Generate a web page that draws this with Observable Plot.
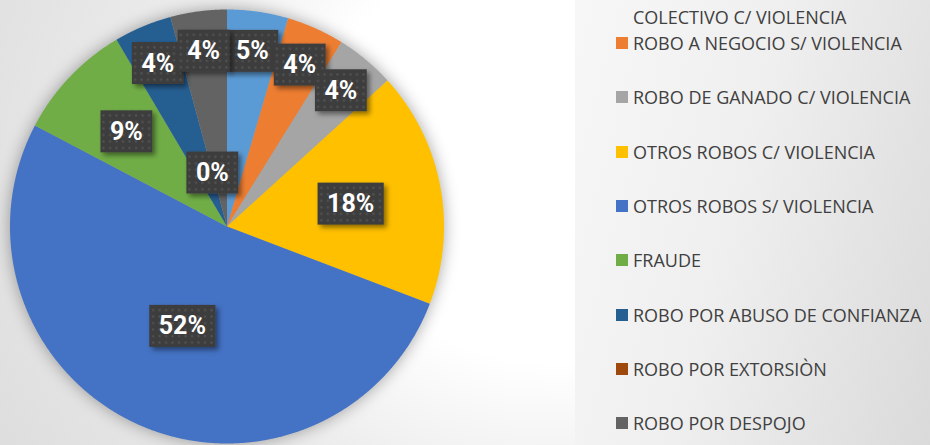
<!DOCTYPE html>
<html><head><meta charset="utf-8">
<script src="https://cdn.jsdelivr.net/npm/d3@7"></script>
<script src="https://cdn.jsdelivr.net/npm/@observablehq/plot@0.6"></script>
<style>
html,body{margin:0;padding:0;background:#fff;}
#wrap{position:relative;width:930px;height:445px;overflow:hidden;
  background:radial-gradient(ellipse 640px 560px at 560px 150px,#ffffff 0%,#ffffff 38%,#ebebeb 66%,#dedede 100%);
  font-family:"Open Sans",sans-serif;}
#chart{position:absolute;left:0;top:0;}
#legend{position:absolute;left:575px;top:0;width:355px;height:445px;overflow:hidden;
  background:linear-gradient(105deg,#f7f7f7 0%,#efefef 45%,#dadada 100%);}
.item{position:absolute;left:58px;width:297px;font-size:18px;line-height:28px;color:#404040;white-space:nowrap;}
.sw{position:absolute;left:-17px;top:8px;width:12px;height:12px;}
</style></head><body>
<div id="wrap"><div id="chart"></div><div id="legend"></div></div>
<script>
const categories = [
  "ROBO A TRANSPORTE PÚBLICO COLECTIVO C/ VIOLENCIA",
  "ROBO A NEGOCIO S/ VIOLENCIA",
  "ROBO DE GANADO C/ VIOLENCIA",
  "OTROS ROBOS C/ VIOLENCIA",
  "OTROS ROBOS S/ VIOLENCIA",
  "FRAUDE",
  "ROBO POR ABUSO DE CONFIANZA",
  "ROBO POR EXTORSIÒN",
  "ROBO POR DESPOJO"
];
const values = [4.55, 4.3, 4.4, 17.55, 51.9, 8.8, 4.3, 0, 4.2];
const colors = ["#5B9BD5", "#ED7D31", "#A5A5A5", "#FFC000", "#4472C4", "#70AD47", "#255E91", "#9E480E", "#636363"];

const data = categories.map((name, i) => ({name, value: values[i], color: colors[i]}));
const total = d3.sum(values);
const arcs = d3.pie().value(d => d.value).sort(null).startAngle(0).endAngle(2 * Math.PI)(data);

// slice outlines (center -> arc -> center), computed from the values
const pts = [];
for (const a of arcs) {
  if (a.endAngle - a.startAngle <= 0) continue;
  const n = Math.max(2, Math.ceil((a.endAngle - a.startAngle) / 0.004));
  pts.push({name: a.data.name, color: a.data.color, x: 0, y: 0});
  for (let k = 0; k <= n; k++) {
    const t = a.startAngle + (a.endAngle - a.startAngle) * k / n;
    pts.push({name: a.data.name, color: a.data.color, x: Math.sin(t), y: Math.cos(t)});
  }
  pts.push({name: a.data.name, color: a.data.color, x: 0, y: 0});
}

// data labels at the slice mid-angle ("best fit"-like radius by slice size)
const labels = arcs.map(a => {
  const mid = (a.startAngle + a.endAngle) / 2;
  const f = a.data.value / total;
  const rf = f === 0 ? 0.26 : f < 0.06 ? 0.82 : f < 0.12 ? 0.64 : f < 0.3 ? 0.58 : 0.5;
  return {x: rf * Math.sin(mid), y: rf * Math.cos(mid), text: Math.round(a.data.value * 100 / total) + "%"};
});

const svg = Plot.plot({
  width: 575, height: 445,
  marginLeft: 9.5, marginRight: 131.5, marginTop: 9, marginBottom: 2,
  style: {background: "transparent", overflow: "visible"},
  x: {domain: [-1, 1], axis: null},
  y: {domain: [-1, 1], axis: null},
  marks: [
    Plot.line(pts, {x: "x", y: "y", z: "name", fill: "color", stroke: "none", curve: "linear"}),
    Plot.text(labels, {x: "x", y: "y", text: "text", fill: "white", fontSize: 25, fontWeight: "bold",
      fontFamily: "Roboto, 'Open Sans', sans-serif", dy: 1})
  ]
});
document.getElementById("chart").appendChild(svg);

// defs: dotted label background + shadows
const ns = "http://www.w3.org/2000/svg";
const defs = document.createElementNS(ns, "defs");
defs.innerHTML = `
<pattern id="dots" width="6.5" height="6.5" patternUnits="userSpaceOnUse">
  <rect width="6.5" height="6.5" fill="#3d3d3d"/>
  <rect x="2.2" y="2.2" width="2" height="2" fill="#565656"/>
</pattern>
<filter id="boxShadow" x="-30%" y="-30%" width="170%" height="170%">
  <feDropShadow dx="3" dy="3" stdDeviation="2.5" flood-color="#000" flood-opacity="0.45"/>
</filter>`;
svg.insertBefore(defs, svg.firstChild);

svg.querySelectorAll("g[aria-label]").forEach(g => {
  if (g.getAttribute("aria-label") === "line") g.style.filter = "drop-shadow(0px 0px 8px rgba(0,0,0,0.35))";
});
const textG = svg.querySelector('g[aria-label="text"]');
if (textG) {
  textG.querySelectorAll("text").forEach(t => {
    const b = t.getBBox();
    const cx = b.x + b.width / 2, cy = b.y + b.height / 2;
    const w = b.width + 19, h = 42;
    const r = document.createElementNS(ns, "rect");
    r.setAttribute("x", cx - w / 2);
    r.setAttribute("y", cy - h / 2);
    r.setAttribute("width", w);
    r.setAttribute("height", h);
    r.setAttribute("fill", "url(#dots)");
    r.setAttribute("filter", "url(#boxShadow)");
    const tr = t.getAttribute("transform");
    if (tr) r.setAttribute("transform", tr);
    t.parentNode.insertBefore(r, t);
  });
}

// legend (long names wrap onto a second line; the first entry starts above the visible frame)
const legend = document.getElementById("legend");
data.forEach((d, i) => {
  const centerY = 43 + (i - 1) * 54.3;
  const words = d.name.split(" ");
  const lines = words.length > 5 ? [words.slice(0, 4).join(" "), words.slice(4).join(" ")] : [d.name];
  lines.forEach((ln, j) => {
    const top = i === 0 && lines.length > 1 ? (j === 0 ? -29 : 3) : centerY - 14 + j * 28;
    if (top + 28 <= 0) return; // line lies wholly above the frame, as in the reference
    const line = document.createElement("div");
    line.className = "item";
    line.style.top = top + "px";
    line.textContent = ln;
    if (j === 0) {
      const sw = document.createElement("span");
      sw.className = "sw";
      sw.style.background = d.color;
      line.prepend(sw);
    }
    legend.appendChild(line);
  });
});
</script>
</body></html>
